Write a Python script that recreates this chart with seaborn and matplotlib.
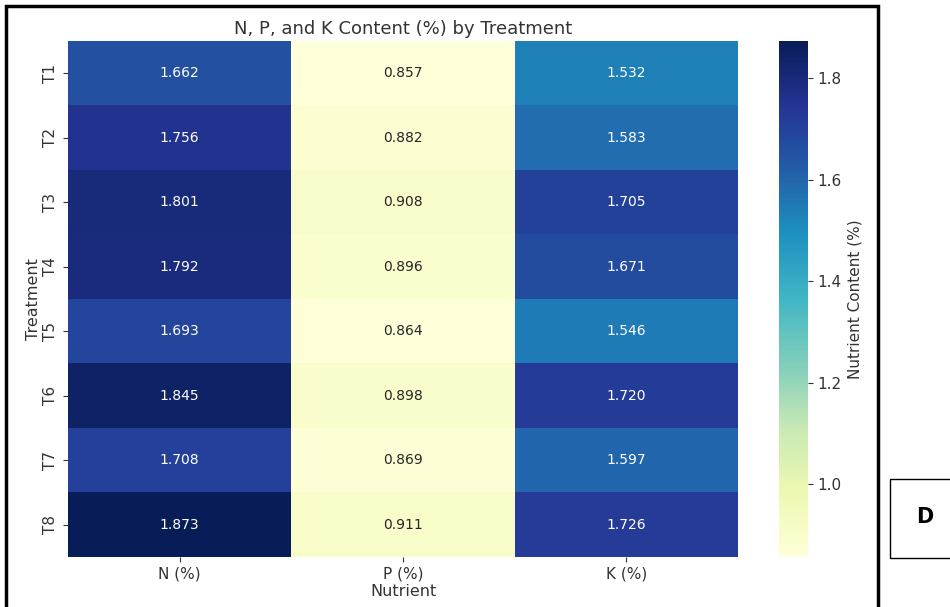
import numpy as np
import pandas as pd
import matplotlib
matplotlib.use("Agg")
import matplotlib.pyplot as plt
from matplotlib.patches import Rectangle
import seaborn as sns

treatments = ["T1", "T2", "T3", "T4", "T5", "T6", "T7", "T8"]
nutrients = ["N (%)", "P (%)", "K (%)"]
n_vals = [1.662, 1.756, 1.801, 1.792, 1.693, 1.845, 1.708, 1.873]
p_vals = [0.857, 0.882, 0.908, 0.896, 0.864, 0.898, 0.869, 0.911]
k_vals = [1.532, 1.583, 1.705, 1.671, 1.546, 1.720, 1.597, 1.726]

df = pd.DataFrame({"N (%)": n_vals, "P (%)": p_vals, "K (%)": k_vals}, index=treatments)

plt.rcParams['font.family'] = ['DejaVu Sans']
fig = plt.figure(figsize=(9.5, 6.07), dpi=100)
ax = fig.add_axes([0.0716, 0.0824, 0.7054, 0.8501])
cax = fig.add_axes([0.82, 0.0824, 0.0305, 0.8501])

sns.heatmap(df, annot=True, fmt=".3f", cmap="YlGnBu", ax=ax, cbar_ax=cax,
            annot_kws={"size": 10},
            cbar_kws={"label": "Nutrient Content (%)"})
ax.set_title("N, P, and K Content (%) by Treatment", fontsize=13, color="#333333", pad=5)
ax.set_xlabel("Nutrient", fontsize=11.5, color="#333333", labelpad=2)
ax.set_ylabel("Treatment", fontsize=11.5, color="#333333", labelpad=2)
ax.tick_params(labelsize=11, colors="#333333")
cax.tick_params(labelsize=11, colors="#333333")
cax.yaxis.label.set_size(11)
cax.yaxis.label.set_color("#333333")

# outer frame and panel tag box
fig.patches.append(Rectangle((6 / 950, -0.05), 872 / 950, 1.05 - 6 / 607, transform=fig.transFigure,
                             fill=False, edgecolor="black", linewidth=2.5))
fig.patches.append(Rectangle((890 / 950, 1 - 558 / 607), 0.08, 79 / 607, transform=fig.transFigure,
                             fill=False, edgecolor="black", linewidth=1))
fig.text(925 / 950, 1 - 517 / 607, "D", fontsize=15, fontweight="bold", ha="center", va="center")

fig.savefig("out.png", dpi=100)
